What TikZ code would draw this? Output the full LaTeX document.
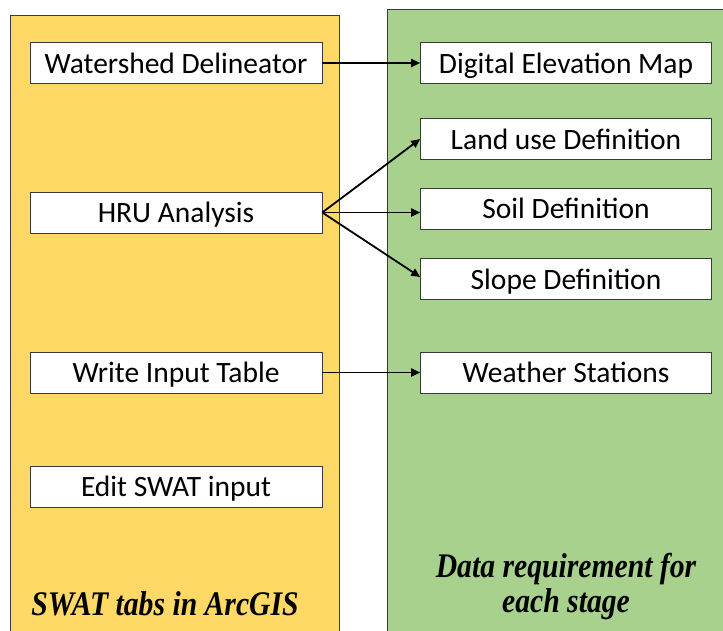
\documentclass[tikz,border=0pt]{standalone}
\usepackage{fontspec}
\setmainfont{Carlito}
\newfontfamily\capfont{Liberation Serif}
\usepackage{xcolor}
\usetikzlibrary{positioning, arrows.meta}
\definecolor{tabyellow}{HTML}{FFD966}
\definecolor{needgreen}{HTML}{A9D18E}
\definecolor{edge}{HTML}{3A3A3A}

\begin{document}
\begin{tikzpicture}[x=1pt, y=-1pt, >={Triangle[length=9pt,width=8pt]}, semithick,
    tab/.style={draw=edge, fill=white, minimum width=292pt, minimum height=41pt, inner sep=0pt, text height=20pt, text depth=0pt, font=\fontsize{29.5}{34}\selectfont},
    need/.style={tab, minimum width=291pt},
    colcaption/.style={font=\capfont\bfseries\itshape\fontsize{34.5}{35}\selectfont, align=center, xscale=0.86}]
    \useasboundingbox (0,0) rectangle (723,630);
    % the two columns
    \draw[edge, fill=tabyellow] (10.5,15.5) rectangle (339.5,640);
    \draw[edge, fill=needgreen] (387.5,9.5) rectangle (730,640);
    % SWAT tabs
    \node[tab] (ws) at (176,63) {Watershed Delineator};
    \node[tab] (hru) at (176,212.5) {HRU Analysis};
    \node[tab] (wit) at (176,372.5) {Write Input Table};
    \node[tab] (edit) at (176,486.5) {Edit SWAT input};
    % data needed
    \node[need] (dem) at (566,63) {Digital Elevation Map};
    \node[need] (land) at (566,139) {Land use Definition};
    \node[need] (soil) at (566,208.5) {Soil Definition};
    \node[need] (slope) at (566,279) {Slope Definition};
    \node[need] (wst) at (566,372.5) {Weather Stations};
    \node[colcaption] (lcap) at (165,604) {SWAT tabs in ArcGIS};
    \node[colcaption] (rcap) at (566,587) {Data requirement for\\each stage};
    \draw[->, line width=1.8pt] (ws) -- (dem);
    \draw[->, line width=1.8pt] (hru.east) -- (land.west);
    \draw[->, line width=1.8pt] (hru.east) -- (soil.west |- hru.east);
    \draw[->, line width=1.8pt] (hru.east) -- ([yshift=2pt]slope.west);
    \draw[->, line width=1.8pt] (wit) -- (wst);
\end{tikzpicture}
\end{document}
